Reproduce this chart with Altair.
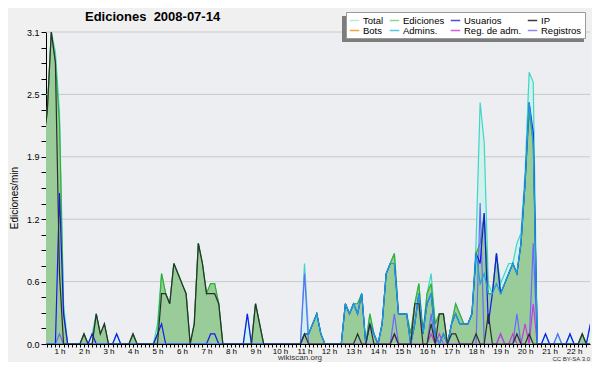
import altair as alt
import pandas as pd

# 10-minute samples (edits/min), one row per hour (h0 .. h22), 6 values per row
TOTAL = [
    0, 0, 2.0, 2.3, 3.1, 2.9,
    2.3, 0.4, 0, 0, 0, 0,
    0.1, 0, 0.1, 0.3, 0.1, 0.2,
    0, 0, 0.1, 0, 0, 0,
    0.1, 0, 0, 0, 0, 0,
    0.2, 0.7, 0.5, 0.4, 0.8, 0.7,
    0.6, 0.5, 0, 0.2, 1.0, 0.8,
    0.5, 0.6, 0.6, 0.4, 0, 0,
    0, 0, 0, 0, 0.3, 0,
    0.4, 0.2, 0, 0, 0, 0,
    0, 0, 0, 0, 0, 0,
    0.8, 0.1, 0.2, 0.3, 0.1, 0,
    0, 0, 0, 0, 0.4, 0.3,
    0.4, 0.4, 0.5, 0, 0.3, 0.1,
    0, 0.2, 0.7, 0.8, 0.9, 0.3,
    0.3, 0.3, 0.1, 0.4, 0.6, 0.1,
    0.5, 0.7, 0.2, 0.3, 0.3, 0,
    0.2, 0.4, 0.3, 0.2, 0.2, 0.3,
    1.0, 2.4, 2.0, 0.6, 0.5, 0.9,
    0.6, 0.7, 0.8, 0.8, 1.0, 1.1,
    1.7, 2.7, 2.6, 0, 0, 0.1,
    0, 0, 0.1, 0, 0, 0.1,
    0, 0, 0.1, 0, 0.2, 0,
]
EDICIONES = [
    0, 0, 2.0, 2.3, 3.1, 2.8,
    2.2, 0.3, 0, 0, 0, 0,
    0.1, 0, 0, 0.3, 0.1, 0.2,
    0, 0, 0, 0, 0, 0,
    0.1, 0, 0, 0, 0, 0,
    0.1, 0.7, 0.5, 0.4, 0.8, 0.7,
    0.6, 0.5, 0, 0.2, 1.0, 0.8,
    0.5, 0.6, 0.6, 0.4, 0, 0,
    0, 0, 0, 0, 0, 0,
    0.4, 0.2, 0, 0, 0, 0,
    0, 0, 0, 0, 0, 0,
    0.1, 0.1, 0.2, 0.3, 0.1, 0,
    0, 0, 0, 0, 0.4, 0.3,
    0.4, 0.4, 0.5, 0, 0.3, 0.1,
    0, 0.2, 0.7, 0.8, 0.9, 0.3,
    0.3, 0.3, 0.1, 0.4, 0.6, 0.1,
    0.5, 0.6, 0.2, 0.3, 0.3, 0,
    0.2, 0.4, 0.3, 0.2, 0.2, 0.3,
    0.9, 1.0, 1.3, 0.5, 0.5, 0.9,
    0.5, 0.6, 0.7, 0.8, 0.7, 1.0,
    1.6, 2.3, 2.0, 0, 0, 0,
    0, 0, 0, 0, 0, 0,
    0, 0, 0.1, 0, 0, 0,
]
USUARIOS = [
    0, 0, 0, 0, 0, 0,
    1.5, 0.3, 0, 0, 0, 0,
    0, 0, 0.1, 0, 0, 0,
    0, 0, 0.1, 0, 0, 0,
    0, 0, 0, 0, 0, 0,
    0.1, 0.2, 0, 0, 0, 0,
    0, 0, 0, 0, 0, 0,
    0, 0.1, 0.1, 0, 0, 0,
    0, 0, 0, 0, 0.3, 0,
    0, 0, 0, 0, 0, 0,
    0, 0, 0, 0, 0, 0,
    0.1, 0.1, 0.2, 0.3, 0.1, 0,
    0, 0, 0, 0, 0.4, 0.3,
    0.4, 0.3, 0.5, 0, 0.2, 0.1,
    0, 0.2, 0.7, 0.8, 0.8, 0.3,
    0.3, 0.3, 0, 0.2, 0.5, 0.1,
    0.4, 0.5, 0.1, 0, 0.1, 0,
    0.2, 0.3, 0.2, 0.2, 0.2, 0.3,
    0.9, 0.8, 1.3, 0.2, 0.5, 0.9,
    0.5, 0.6, 0.7, 0.8, 0.7, 1.0,
    1.6, 2.4, 2.1, 0, 0, 0.1,
    0, 0, 0, 0, 0, 0.1,
    0, 0, 0, 0, 0.2, 0,
]
IP = [
    0, 0, 2.0, 2.3, 3.1, 2.8,
    0.7, 0, 0, 0, 0, 0,
    0.1, 0, 0, 0.3, 0.1, 0.2,
    0, 0, 0, 0, 0, 0,
    0.1, 0, 0, 0, 0, 0,
    0, 0.5, 0.5, 0.4, 0.8, 0.7,
    0.6, 0.5, 0, 0.2, 1.0, 0.8,
    0.5, 0.5, 0.5, 0.4, 0, 0,
    0, 0, 0, 0, 0, 0,
    0.4, 0.2, 0, 0, 0, 0,
    0, 0, 0, 0, 0, 0,
    0.1, 0, 0, 0, 0, 0,
    0, 0, 0, 0, 0, 0,
    0, 0.1, 0, 0, 0.2, 0,
    0, 0, 0, 0, 0.1, 0,
    0, 0, 0, 0.4, 0.4, 0,
    0, 0.2, 0, 0.3, 0.3, 0,
    0.1, 0.1, 0, 0, 0, 0,
    0.1, 0, 0, 0.3, 0, 0,
    0, 0, 0, 0, 0.1, 0,
    0, 0.1, 0, 0, 0, 0,
    0, 0, 0, 0, 0, 0,
    0, 0, 0.1, 0, 0, 0,
]
ADMINS = [
    0, 0, 0, 0, 0, 0,
    0, 0, 0, 0, 0, 0,
    0, 0, 0, 0, 0, 0,
    0, 0, 0, 0, 0, 0,
    0, 0, 0, 0, 0, 0,
    0, 0, 0, 0, 0, 0,
    0, 0, 0, 0, 0, 0,
    0, 0, 0, 0, 0, 0,
    0, 0, 0, 0, 0, 0,
    0, 0, 0, 0, 0, 0,
    0, 0, 0, 0, 0, 0,
    0.1, 0.1, 0.2, 0.3, 0.1, 0,
    0, 0, 0, 0, 0.4, 0.3,
    0.4, 0.3, 0.5, 0, 0.2, 0.1,
    0, 0.2, 0.7, 0.8, 0.8, 0.3,
    0.3, 0.3, 0, 0.2, 0.5, 0.1,
    0.4, 0.5, 0.1, 0, 0.1, 0,
    0.2, 0.3, 0.2, 0.2, 0.2, 0.3,
    0.9, 0.6, 0.7, 0.5, 0.5, 0.6,
    0.5, 0.6, 0.7, 0.8, 0.7, 1.0,
    1.6, 2.4, 2.0, 0, 0, 0,
    0, 0, 0, 0, 0, 0,
    0, 0, 0, 0, 0, 0,
]
REG_ADM = [
    0, 0, 0, 0, 0, 0,
    0, 0, 0, 0, 0, 0,
    0, 0, 0, 0, 0, 0,
    0, 0, 0, 0, 0, 0,
    0, 0, 0, 0, 0, 0,
    0, 0, 0, 0, 0, 0,
    0, 0, 0, 0, 0, 0,
    0, 0, 0, 0, 0, 0,
    0, 0, 0, 0, 0, 0,
    0, 0, 0, 0, 0, 0,
    0, 0, 0, 0, 0, 0,
    0, 0, 0, 0, 0, 0,
    0, 0, 0, 0, 0, 0,
    0, 0, 0, 0, 0, 0,
    0, 0, 0, 0, 0.1, 0,
    0, 0, 0, 0, 0, 0,
    0, 0.1, 0, 0.1, 0, 0,
    0, 0, 0, 0, 0, 0,
    0, 0, 0, 0, 0, 0,
    0.1, 0, 0, 0.1, 0, 0,
    0.2, 0, 0.4, 0, 0, 0,
    0, 0, 0, 0, 0, 0,
    0, 0, 0, 0, 0, 0,
]
REGISTROS = [
    0, 0, 0, 0, 0, 0,
    0.1, 0, 0, 0, 0, 0,
    0, 0, 0, 0, 0, 0,
    0, 0, 0, 0, 0, 0,
    0, 0, 0, 0, 0, 0,
    0, 0, 0, 0, 0, 0,
    0, 0, 0, 0, 0, 0,
    0, 0, 0, 0, 0, 0,
    0, 0, 0, 0, 0, 0,
    0, 0, 0, 0, 0, 0,
    0, 0, 0, 0, 0, 0,
    0.7, 0, 0, 0, 0, 0,
    0, 0, 0, 0, 0, 0,
    0, 0, 0, 0, 0, 0,
    0, 0, 0, 0, 0.3, 0,
    0, 0, 0, 0, 0, 0,
    0, 0.3, 0, 0, 0, 0,
    0, 0, 0, 0, 0, 0,
    0, 1.4, 0, 0, 0, 0,
    0.1, 0, 0, 0, 0.3, 0,
    0, 0, 1.0, 0, 0, 0,
    0, 0, 0.1, 0, 0, 0,
    0, 0, 0, 0, 0, 0,
]

SERIES_NAMES = ["Total", "Ediciones", "Usuarios", "IP", "Bots", "Admins.", "Reg. de adm.", "Registros"]
LEGEND_COLORS = ["#b2ebe3", "#8fd48f", "#4a4ae6", "#3a3a3a", "#f5a33c", "#4cc8e4", "#d35ce0", "#8a8af2"]
Y_MAX = 3.1
Y_TICKS = [round(i * 0.155, 3) for i in range(21)]
Y_GRID = [0.62, 1.24, 1.86, 2.48, 3.1]
X_TICKS = [k / 6 for k in range(3, 137)]

DATA = {
    "Total": TOTAL, "Ediciones": EDICIONES, "Usuarios": USUARIOS, "IP": IP,
    "Admins.": ADMINS, "Reg. de adm.": REG_ADM, "Registros": REGISTROS,
}
rows = []
for name, vals in DATA.items():
    for k, v in enumerate(vals):
        rows.append({"t": k / 6, "serie": name, "v": v})
df = pd.DataFrame(rows)
grid_df = pd.DataFrame({"g": Y_GRID})
one = pd.DataFrame({"a": [0]})

FONT = "Liberation Sans"

X = alt.X("t:Q", scale=alt.Scale(domain=[0.45, 22.65], nice=False, zero=False),
          axis=alt.Axis(values=X_TICKS, title=None, grid=False, tickSize=3, labelPadding=0,
                        labelFontSize=8,
                        labelExpr="abs(datum.value - round(datum.value)) < 0.001 ? round(datum.value) + ' h' : ''",
                        labelOverlap=False, labelFlush=False))
yscale = alt.Scale(domain=[0, Y_MAX], nice=False, zero=True)
yaxis = alt.Axis(values=Y_TICKS, title=None, grid=False, tickSize=5, labelPadding=2,
                 labelExpr="abs(datum.value / 0.62 - round(datum.value / 0.62)) < 0.01 ? format(datum.value, '.1f') : ''",
                 labelOverlap=False, labelFlush=False)
Y = alt.Y("v:Q", scale=yscale, axis=yaxis)

grid = alt.Chart(grid_df).mark_rule(color="#c9c9c9", strokeWidth=1).encode(
    y=alt.Y("g:Q", scale=yscale, axis=yaxis))

def sub(name):
    return alt.Chart(df).transform_filter(alt.datum.serie == name)

total_area = sub("Total").mark_area(color="#d3f1ec", clip=True).encode(x=X, y=Y)
total_line = sub("Total").mark_line(color="#3fd6c6", strokeWidth=1.2, clip=True).encode(x=X, y=Y)
edi_area = sub("Ediciones").mark_area(color="#99cc99", clip=True).encode(x=X, y=Y)
edi_line = sub("Ediciones").mark_line(color="#33b033", strokeWidth=1.2, clip=True).encode(x=X, y=Y)

LINE_COLORS = {
    "Registros": "#6a6aff", "Reg. de adm.": "#c83cd8", "Usuarios": "#1818ee",
    "Admins.": "#1ea0e0", "IP": "#2e2e2e",
}
lines = [sub(n).mark_line(color=c, strokeWidth=1.2, clip=True).encode(x=X, y=Y)
         for n, c in LINE_COLORS.items()]

legend_layer = alt.Chart(df).mark_line(strokeWidth=0, clip=True).encode(
    x=X, y=Y,
    color=alt.Color("serie:N", scale=alt.Scale(domain=SERIES_NAMES, range=LEGEND_COLORS),
                    legend=alt.Legend(title=None, orient="none", legendX=300, legendY=-20,
                                      direction="horizontal", columns=4,
                                      symbolType="stroke", symbolSize=90,
                                      symbolStrokeWidth=1.5, symbolOpacity=1,
                                      labelFont=FONT, labelFontSize=9.5, labelColor="#000",
                                      fillColor="#ffffff", strokeColor="#9a9a9a",
                                      padding=3, columnPadding=2, rowPadding=0,
                                      labelOffset=3, zindex=1)))

shadow = alt.Chart(one).mark_rect(color="#7d7d7d").encode(
    x=alt.value(296), x2=alt.value(538), y=alt.value(-16), y2=alt.value(10))

title = alt.Chart(one).mark_text(text="Ediciones\u00a0 2008-07-14", font=FONT, fontSize=13,
                                 fontWeight="bold", align="left", baseline="alphabetic",
                                 color="#000").encode(x=alt.value(39), y=alt.value(-11))
ytitle = alt.Chart(one).mark_text(text="Ediciones/min", font=FONT, fontSize=10, angle=270,
                                  align="center", baseline="middle", color="#000").encode(
    x=alt.value(-31), y=alt.value(166))
footer = alt.Chart(one).mark_text(text="wikiscan.org", font=FONT, fontSize=8, align="center",
                                  baseline="alphabetic", color="#333").encode(
    x=alt.value(254), y=alt.value(328))
cc = alt.Chart(one).mark_text(text="CC BY-SA 3.0", font=FONT, fontSize=6, align="right",
                              baseline="alphabetic", color="#333").encode(
    x=alt.value(544), y=alt.value(329))

chart = alt.layer(
    grid, total_area, total_line, edi_area, edi_line, *lines, legend_layer,
    shadow, title, ytitle, footer, cc,
).properties(
    width=544, height=312,
    padding={"left": 38, "top": 24, "right": 2, "bottom": 18},
    autosize=alt.AutoSizeParams(type="none"),
    background="#f0f0f0",
).configure_view(
    fill="#eceef1", stroke=None,
).configure_axis(
    domainColor="#000", tickColor="#000", labelColor="#000", labelFont=FONT,
    labelFontSize=9, zindex=1, domainWidth=1, tickWidth=1,
)

chart.save("out.html", embed_options={"renderer": "svg", "actions": False})
